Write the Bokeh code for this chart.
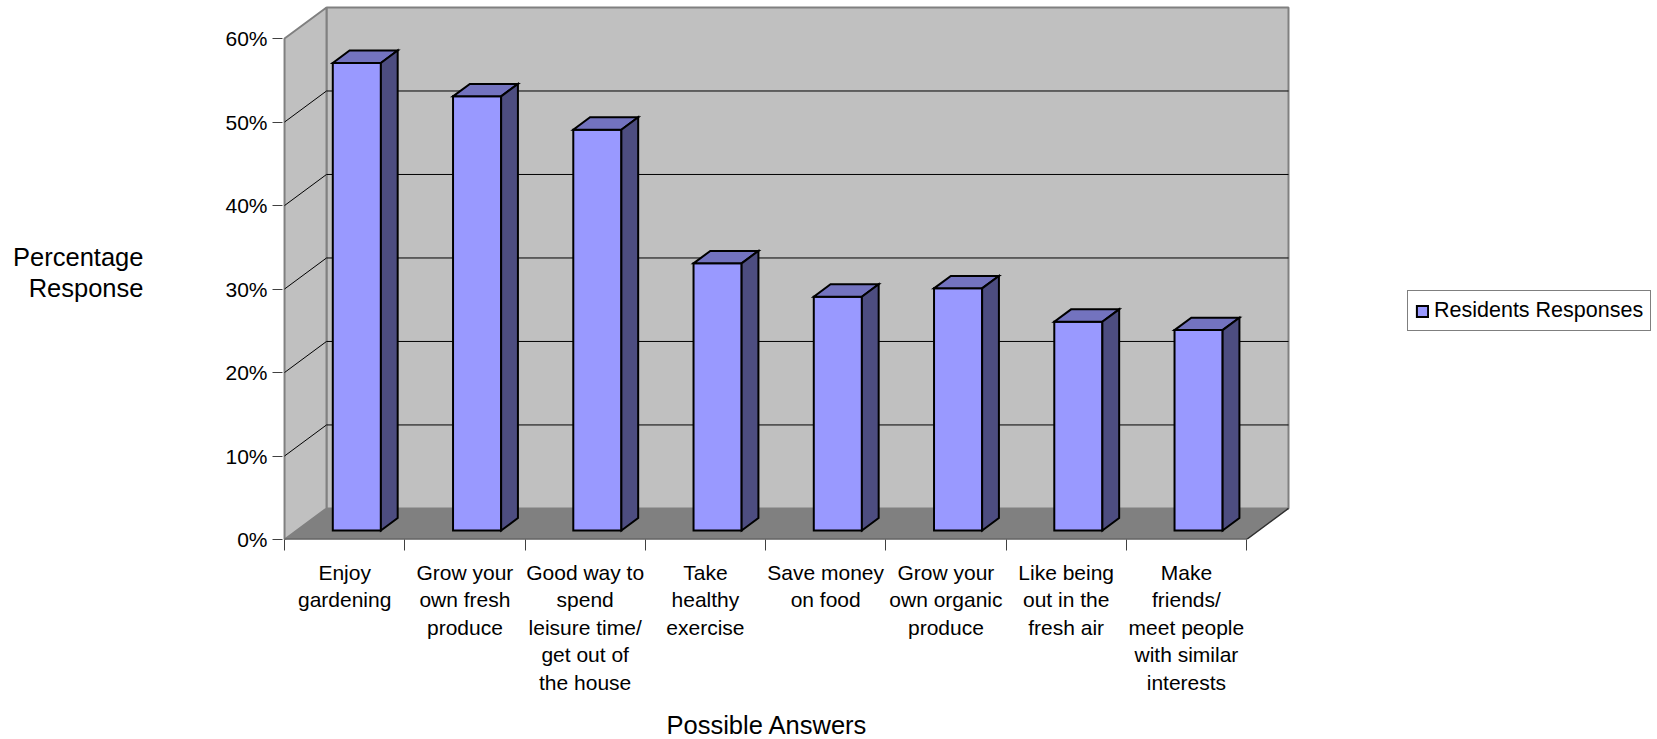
import numpy as np
from bokeh.plotting import figure
from bokeh.models import (FixedTicker, NumeralTickFormatter, Range1d, Legend,
                          LegendItem, Title)
from bokeh.embed import file_html
from bokeh.resources import INLINE

# ---------------- data ----------------
categories = [
    "Enjoy\ngardening",
    "Grow your\nown fresh\nproduce",
    "Good way to\nspend\nleisure time/\nget out of\nthe house",
    "Take\nhealthy\nexercise",
    "Save money\non food",
    "Grow your\nown organic\nproduce",
    "Like being\nout in the\nfresh air",
    "Make\nfriends/\nmeet people\nwith similar\ninterests",
]
responses = [0.56, 0.52, 0.48, 0.32, 0.28, 0.29, 0.25, 0.24]
y_ticks = [0.0, 0.1, 0.2, 0.3, 0.4, 0.5, 0.6]
series_name = "Residents Responses"
x_title = "Possible Answers"
y_title = "Percentage\nResponse"

# ---------------- 3D geometry (data units) ----------------
n = len(categories)
YMAX = y_ticks[-1]
DX = 0.349      # depth offset along x (category units)
DY = 0.0372     # depth offset along y (value units)
F0, F1 = 0.29, 0.69   # bar front / back depth fraction
BAR_W = 0.4
PADX, PADY = 0.017, 0.0024
EXTRA = 3.035   # blank room right of the box, holding the legend

FONT = "Liberation Sans"
FRAME_L, FRAME_B = 282, 539   # frame left / bottom in page pixels

p = figure(frame_width=1373, frame_height=534,
           x_range=Range1d(-PADX, n + DX + PADX + EXTRA),
           y_range=Range1d(0, YMAX + DY + PADY),
           output_backend="svg", toolbar_location=None,
           min_border_left=FRAME_L, min_border_right=2,
           min_border_top=5, min_border_bottom=200)
p.grid.visible = False
p.outline_line_color = None
p.background_fill_color = "white"
p.border_fill_color = "white"

# walls
p.patch([DX, n + DX, n + DX, DX], [DY, DY, YMAX + DY, YMAX + DY],
        fill_color="#C0C0C0", line_color="#808080", line_width=2)
p.patch([0, DX, DX, 0], [0, DY, YMAX + DY, YMAX],
        fill_color="#C0C0C0", line_color="#808080", line_width=2)
# gridlines
gv = y_ticks[1:-1]
p.segment(x0=[DX] * len(gv), y0=[v + DY for v in gv], x1=[n + DX] * len(gv),
          y1=[v + DY for v in gv], line_color="black", line_width=1)
p.segment(x0=[0] * len(gv), y0=gv, x1=[DX] * len(gv),
          y1=[v + DY for v in gv], line_color="black", line_width=1)
# floor
p.patch([0, n, n + DX, DX], [0, 0, DY, DY], fill_color="#808080", line_color=None)
p.line([0, n, n + DX], [0, 0, DY], line_color="#303030", line_width=1.5)

# bars
fx, fy, tx, ty, sx, sy = [], [], [], [], [], []
bd = F1 - F0
for i, v in enumerate(responses):
    cx = i + 0.5
    x0 = cx - BAR_W / 2 + F0 * DX
    x1 = cx + BAR_W / 2 + F0 * DX
    y0 = F0 * DY
    yt = v + F0 * DY
    ddx, ddy = bd * DX, bd * DY
    fx.append([x0, x1, x1, x0]); fy.append([y0, y0, yt, yt])
    tx.append([x0, x1, x1 + ddx, x0 + ddx]); ty.append([yt, yt, yt + ddy, yt + ddy])
    sx.append([x1, x1 + ddx, x1 + ddx, x1]); sy.append([y0, y0 + ddy, yt + ddy, yt])

front = p.patches(fx, fy, fill_color="#9999FF", line_color="black", line_width=2,
                  line_join="miter")
p.patches(tx, ty, fill_color="#7373BF", line_color="black", line_width=2, line_join="miter")
p.patches(sx, sy, fill_color="#4D4D80", line_color="black", line_width=2, line_join="miter")

# axes
xa = p.xaxis[0]
xa.ticker = FixedTicker(ticks=[i + 0.5 for i in range(n)], minor_ticks=list(range(n + 1)))
xa.major_label_overrides = {i + 0.5: categories[i] for i in range(n)}
xa.axis_line_color = None
xa.major_tick_out = 0
xa.major_tick_in = 0
xa.minor_tick_out = 11
xa.minor_tick_in = 0
xa.minor_tick_line_color = "#404040"
xa.major_label_text_font = FONT
xa.major_label_text_font_size = "21px"
xa.major_label_text_color = "black"
xa.major_label_text_line_height = 1.2
xa.major_label_standoff = 10
xa.major_label_orientation = "horizontal"

ya = p.yaxis[0]
ya.ticker = FixedTicker(ticks=y_ticks, minor_ticks=[])
ya.formatter = NumeralTickFormatter(format="0%")
ya.axis_line_color = None
ya.major_tick_out = 10
ya.major_tick_in = 0
ya.major_tick_line_color = "#404040"
ya.major_label_text_font = FONT
ya.major_label_text_font_size = "21px"
ya.major_label_text_color = "black"
ya.major_label_standoff = 5
ya.axis_label = y_title
ya.axis_label_orientation = "horizontal"
ya.axis_label_text_font = FONT
ya.axis_label_text_font_size = "25.5px"
ya.axis_label_text_font_style = "normal"
ya.axis_label_text_color = "black"
ya.axis_label_text_line_height = 1.08
ya.axis_label_standoff = 79

# x title
p.add_layout(Title(text=x_title, align="left", offset=666 - FRAME_L,
                   text_font=FONT, text_font_size="25.5px", text_font_style="normal",
                   text_color="black", standoff=24), "below")

# legend
legend = Legend(items=[LegendItem(label=series_name, renderers=[front])],
                location=(1407 - FRAME_L, FRAME_B - 331), orientation="vertical",
                label_text_font=FONT, label_text_font_size="21.5px",
                label_text_color="black",
                glyph_width=14, glyph_height=14, label_height=21,
                padding=7, margin=0, spacing=0, label_standoff=5,
                border_line_color="black", border_line_width=1,
                background_fill_color="white", background_fill_alpha=1)
p.add_layout(legend, "center")

open("out.html", "w").write(file_html(p, INLINE))
